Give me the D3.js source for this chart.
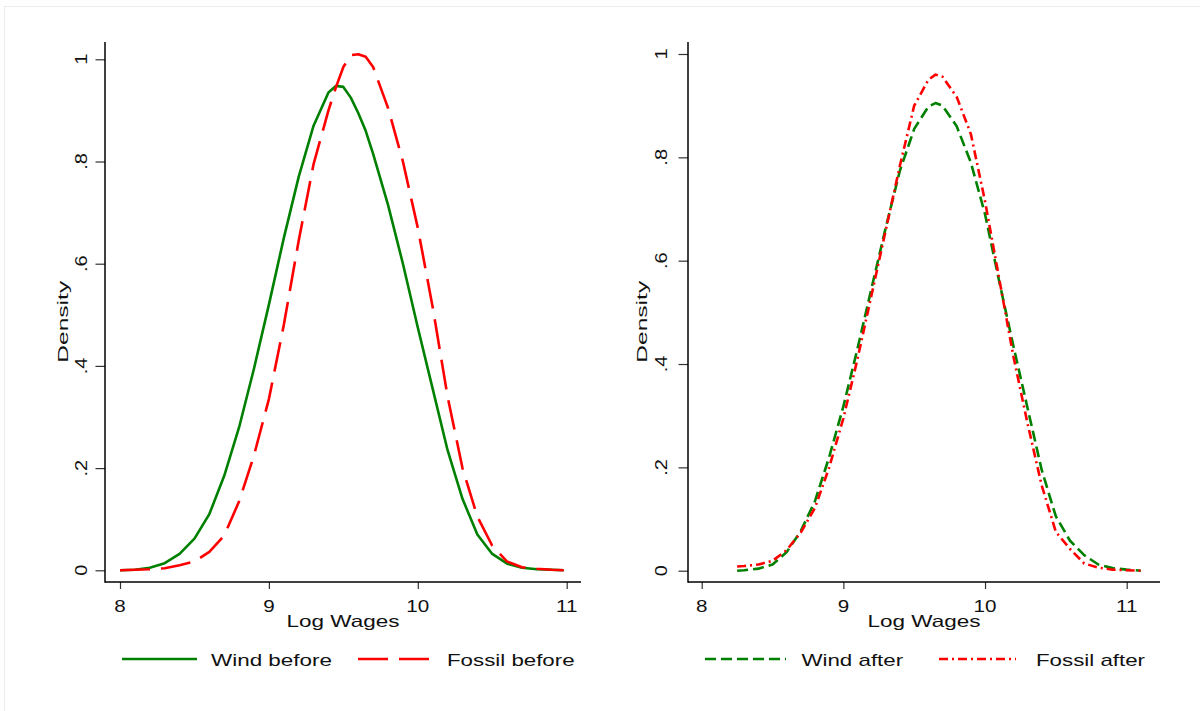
<!DOCTYPE html>
<html>
<head>
<meta charset="utf-8">
<script src="https://cdn.jsdelivr.net/npm/d3@7"></script>
<style>
  body { margin: 0; background: #fff; }
  text { font-family: "Liberation Sans", Arial, Helvetica, sans-serif; fill: #111; }
</style>
</head>
<body>
<div class="chart"></div>
<script>
// log wage grid points
const leftGrid = [8.0, 8.1, 8.2, 8.3, 8.4, 8.5, 8.6, 8.7, 8.8, 8.9, 9.0, 9.1, 9.2, 9.3, 9.4, 9.45, 9.5,
  9.55, 9.6, 9.65, 9.7, 9.8, 9.9, 10.0, 10.1, 10.2, 10.3, 10.4, 10.5, 10.6, 10.7, 10.8, 10.9, 10.98];
const windBefore = [0.000, 0.001, 0.005, 0.014, 0.032, 0.062, 0.110, 0.185, 0.280, 0.395, 0.520, 0.650,
  0.770, 0.870, 0.935, 0.948, 0.946, 0.925, 0.895, 0.860, 0.815, 0.715, 0.600, 0.475, 0.355, 0.235,
  0.140, 0.070, 0.032, 0.013, 0.005, 0.002, 0.001, 0.000];
const fossilBefore = [0.000, 0.001, 0.002, 0.004, 0.010, 0.017, 0.036, 0.068, 0.135, 0.225, 0.335, 0.480,
  0.645, 0.795, 0.900, 0.945, 0.985, 1.008, 1.010, 1.005, 0.985, 0.905, 0.800, 0.670, 0.515, 0.340,
  0.200, 0.105, 0.048, 0.017, 0.006, 0.003, 0.001, 0.000];

const rightGrid = [8.25, 8.3, 8.4, 8.5, 8.6, 8.7, 8.8, 8.9, 9.0, 9.1, 9.2, 9.3, 9.4, 9.5, 9.6, 9.65, 9.7,
  9.8, 9.9, 10.0, 10.1, 10.2, 10.3, 10.4, 10.5, 10.6, 10.7, 10.8, 10.9, 11.0, 11.1];
const windAfter = [0.000, 0.001, 0.004, 0.012, 0.036, 0.077, 0.135, 0.220, 0.318, 0.430, 0.548, 0.665,
  0.775, 0.855, 0.898, 0.905, 0.900, 0.860, 0.790, 0.690, 0.560, 0.435, 0.315, 0.195, 0.105, 0.058,
  0.030, 0.012, 0.005, 0.002, 0.000];
const fossilAfter = [0.008, 0.009, 0.012, 0.019, 0.040, 0.074, 0.122, 0.200, 0.295, 0.410, 0.535, 0.660,
  0.785, 0.900, 0.950, 0.960, 0.956, 0.917, 0.845, 0.715, 0.565, 0.415, 0.285, 0.165, 0.075, 0.042,
  0.014, 0.006, 0.002, 0.001, 0.000];

const xTicks = [8, 9, 10, 11];
const yTicks = [0, 0.2, 0.4, 0.6, 0.8, 1];
const yTickLabels = ["0", ".2", ".4", ".6", ".8", "1"];
const xTitle = "Log Wages";
const yTitle = "Density";

const w = 1200;
const h = 711;
const font = "'Liberation Sans', Arial, Helvetica, sans-serif";

const svg = d3.select(".chart").append("svg").attr("width", w).attr("height", h);

// faint outer frame of the graph region
svg.append("rect")
  .attr("x", 4.5).attr("y", 6.5).attr("width", 1200).attr("height", 720)
  .attr("fill", "none").attr("stroke", "#ececec");

function addText(g, x, y, str, o) {
  let tf = `translate(${x},${y})`;
  if (o.rotate) tf += " rotate(-90)";
  if (o.sx) tf += ` scale(${o.sx},1)`;
  const t = g.append("text")
    .attr("transform", tf)
    .attr("text-anchor", o.anchor || "start")
    .style("font-size", o.size + "px")
    .style("font-family", font)
    .text(str);
  if (o.len) t.attr("textLength", o.len).attr("lengthAdjust", "spacingAndGlyphs");
  return t;
}

const panels = [
  {
    box: { x0: 105, x1: 581, y0: 42, y1: 582 },
    xr: [120, 566.7], yr: [570.3, 59.3],
    grid: leftGrid,
    series: [
      { name: "Wind before", values: windBefore, color: "#008000", dash: null },
      { name: "Fossil before", values: fossilBefore, color: "#ff0000", dash: "30,11" }
    ],
    yLabelX: 86.5, yTitleX: 68,
    legend: [{ x1: 122, x2: 197, tx: 211, len: 121 }, { x1: 358, x2: 433, tx: 447, len: 127.6 }]
  },
  {
    box: { x0: 688, x1: 1160, y0: 42, y1: 582 },
    xr: [701.7, 1126.7], yr: [570.7, 54],
    grid: rightGrid,
    series: [
      { name: "Wind after", values: windAfter, color: "#008000", dash: "11,5" },
      { name: "Fossil after", values: fossilAfter, color: "#ff0000", dash: "9,4,2,4" }
    ],
    yLabelX: 666.5, yTitleX: 647,
    legend: [{ x1: 705, x2: 786, tx: 801.4, len: 101.8 }, { x1: 939, x2: 1016, tx: 1036, len: 109 }]
  }
];

panels.forEach(p => {
  const g = svg.append("g");
  const x = d3.scaleLinear().domain([8, 11]).range(p.xr);
  const y = d3.scaleLinear().domain([0, 1]).range(p.yr);

  // curves
  p.series.forEach(s => {
    const pts = p.grid.map((v, i) => [v, s.values[i]]);
    const line = d3.line().x(d => x(d[0])).y(d => y(d[1]));
    g.append("path")
      .datum(pts)
      .attr("d", line)
      .attr("fill", "none")
      .attr("stroke", s.color)
      .attr("stroke-width", 2.6)
      .attr("stroke-linejoin", "round")
      .attr("stroke-dasharray", s.dash);
  });

  // axes: ticks from d3, lines drawn along the plot box
  g.append("g")
    .attr("transform", `translate(0,${p.box.y1})`)
    .call(d3.axisBottom(x).tickValues(xTicks).tickSize(7).tickFormat(""))
    .call(a => a.select(".domain").remove())
    .call(a => a.selectAll("line").attr("stroke", "#333").attr("stroke-width", 1.2));
  g.append("g")
    .attr("transform", `translate(${p.box.x0},0)`)
    .call(d3.axisLeft(y).tickValues(yTicks).tickSize(9.5).tickFormat(""))
    .call(a => a.select(".domain").remove())
    .call(a => a.selectAll("line").attr("stroke", "#333").attr("stroke-width", 1.2));

  g.append("line")
    .attr("x1", p.box.x0).attr("x2", p.box.x0)
    .attr("y1", p.box.y0).attr("y2", p.box.y1 + 0.7)
    .attr("stroke", "#000").attr("stroke-width", 1.5);
  g.append("line")
    .attr("x1", p.box.x0).attr("x2", p.box.x1)
    .attr("y1", p.box.y1).attr("y2", p.box.y1)
    .attr("stroke", "#000").attr("stroke-width", 1.5);

  // tick labels
  xTicks.forEach(v => addText(g, x(v), 611.5, String(v), { anchor: "middle", size: 16.5, sx: 1.25 }));
  yTicks.forEach((v, i) => addText(g, p.yLabelX, y(v), yTickLabels[i], { anchor: "middle", size: 16, sx: 1.25, rotate: true }));

  // titles
  const cx = (p.box.x0 + p.box.x1) / 2;
  addText(g, cx - 56.5, 627, xTitle, { size: 16.5, len: 113 });
  addText(g, p.yTitleX, 321.8 + 41, yTitle, { size: 15, len: 82, rotate: true });

  // legend
  p.series.forEach((s, i) => {
    const L = p.legend[i];
    g.append("line")
      .attr("x1", L.x1).attr("x2", L.x2)
      .attr("y1", 659).attr("y2", 659)
      .attr("stroke", s.color)
      .attr("stroke-width", 2.6)
      .attr("stroke-dasharray", s.dash);
    addText(g, L.tx, 666, s.name, { size: 17, len: L.len });
  });
});
</script>
</body>
</html>
